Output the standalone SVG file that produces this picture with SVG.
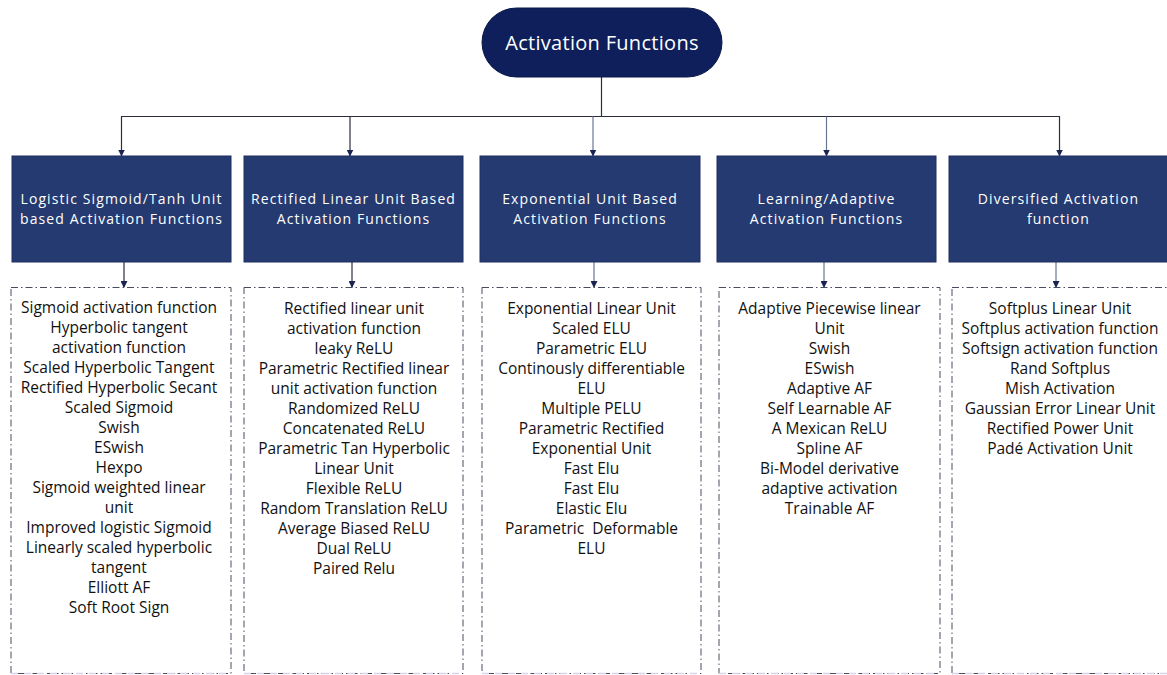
<svg xmlns="http://www.w3.org/2000/svg" width="1167" height="675" viewBox="0 0 1167 675">
<defs>
<marker id="arr" markerWidth="7" markerHeight="7" refX="6.5" refY="3.5" orient="auto" markerUnits="userSpaceOnUse">
<path d="M0,0 L7,3.5 L0,7 z" fill="#1b2350"/>
</marker>
<style>
.conn{fill:none;stroke:#2a2d3e;stroke-width:1.2}
.conn2{fill:none;stroke:#6a7594;stroke-width:1.2}
.pill{fill:#0e1f5b;stroke:#0a1848;stroke-width:1}
.cat{fill:#243a70;stroke:#1c2f5e;stroke-width:1}
.ttl{font-family:"Open Sans","Noto Sans",sans-serif;font-size:20px;fill:#ffffff;text-anchor:middle;letter-spacing:0.3px}
.cattxt{font-family:"Open Sans","Noto Sans",sans-serif;font-size:14px;fill:#ffffff;text-anchor:middle;letter-spacing:1.1px}
.lst{fill:#ffffff;stroke:#4a4c5e;stroke-width:1;stroke-dasharray:7 3 1.5 3}
.lstb{fill:none;stroke:#d4d4ec;stroke-width:1.5;stroke-dasharray:7 6}
.item{font-family:"Open Sans","Noto Sans",sans-serif;font-size:15.5px;fill:#111111;text-anchor:middle}
</style>
</defs>
<rect width="1167" height="675" fill="#ffffff"/>

<g id="connectors">
<path class="conn" d="M601.5 77 V116.5"/>
<path class="conn" d="M121 116.5 H1060"/>
<path class="conn" d="M121.5 116.5 V156" marker-end="url(#arr)"/>
<path class="conn" d="M350 116.5 V156" marker-end="url(#arr)"/>
<path class="conn2" d="M593 116.5 V156" marker-end="url(#arr)"/>
<path class="conn2" d="M826.5 116.5 V156" marker-end="url(#arr)"/>
<path class="conn" d="M1059.5 116.5 V156" marker-end="url(#arr)"/>
<path class="conn" d="M124 262 V287.5" marker-end="url(#arr)"/>
<path class="conn" d="M352 262 V287.5" marker-end="url(#arr)"/>
<path class="conn2" d="M594 262 V287.5" marker-end="url(#arr)"/>
<path class="conn2" d="M824 262 V287.5" marker-end="url(#arr)"/>
<path class="conn2" d="M1056 262 V287.5" marker-end="url(#arr)"/>
</g>

<g id="root">
<rect class="pill" x="482" y="8" width="240" height="69" rx="34.5" ry="34.5"/>
<text class="ttl" x="602" y="50">Activation Functions</text>
</g>

<g id="cat1">
<rect class="cat" x="12" y="156" width="219" height="106"/>
<text class="cattxt" x="121.5" y="204">Logistic Sigmoid/Tanh Unit</text>
<text class="cattxt" x="121.5" y="224">based Activation Functions</text>
</g>
<g id="cat2">
<rect class="cat" x="244" y="156" width="219" height="106"/>
<text class="cattxt" x="353.5" y="204">Rectified Linear Unit Based</text>
<text class="cattxt" x="353.5" y="224">Activation Functions</text>
</g>
<g id="cat3">
<rect class="cat" x="480" y="156" width="220" height="106"/>
<text class="cattxt" x="590" y="204">Exponential Unit Based</text>
<text class="cattxt" x="590" y="224">Activation Functions</text>
</g>
<g id="cat4">
<rect class="cat" x="717" y="156" width="219" height="106"/>
<text class="cattxt" x="826.5" y="204">Learning/Adaptive</text>
<text class="cattxt" x="826.5" y="224">Activation Functions</text>
</g>
<g id="cat5">
<rect class="cat" x="949" y="156" width="219" height="106"/>
<text class="cattxt" x="1058.5" y="204">Diversified Activation</text>
<text class="cattxt" x="1058.5" y="224">function</text>
</g>

<g id="list1">
<rect class="lst" x="11" y="287.5" width="220" height="386"/>
<path class="lstb" d="M11 673.5 H231"/>
<text class="item" x="119" y="313">Sigmoid activation function</text>
<text class="item" x="119" y="333">Hyperbolic tangent</text>
<text class="item" x="119" y="353">activation function</text>
<text class="item" x="119" y="373">Scaled Hyperbolic Tangent</text>
<text class="item" x="119" y="393">Rectified Hyperbolic Secant</text>
<text class="item" x="119" y="413">Scaled Sigmoid</text>
<text class="item" x="119" y="433">Swish</text>
<text class="item" x="119" y="453">ESwish</text>
<text class="item" x="119" y="473">Hexpo</text>
<text class="item" x="119" y="493">Sigmoid weighted linear</text>
<text class="item" x="119" y="513">unit</text>
<text class="item" x="119" y="533">Improved logistic Sigmoid</text>
<text class="item" x="119" y="553">Linearly scaled hyperbolic</text>
<text class="item" x="119" y="573">tangent</text>
<text class="item" x="119" y="593">Elliott AF</text>
<text class="item" x="119" y="613">Soft Root Sign</text>
</g>

<g id="list2">
<rect class="lst" x="244" y="287.5" width="219" height="386"/>
<path class="lstb" d="M244 673.5 H463"/>
<text class="item" x="354" y="314">Rectified linear unit</text>
<text class="item" x="354" y="334">activation function</text>
<text class="item" x="354" y="354">leaky ReLU</text>
<text class="item" x="354" y="374">Parametric Rectified linear</text>
<text class="item" x="354" y="394">unit activation function</text>
<text class="item" x="354" y="414">Randomized ReLU</text>
<text class="item" x="354" y="434">Concatenated ReLU</text>
<text class="item" x="354" y="454">Parametric Tan Hyperbolic</text>
<text class="item" x="354" y="474">Linear Unit</text>
<text class="item" x="354" y="494">Flexible ReLU</text>
<text class="item" x="354" y="514">Random Translation ReLU</text>
<text class="item" x="354" y="534">Average Biased ReLU</text>
<text class="item" x="354" y="554">Dual ReLU</text>
<text class="item" x="354" y="574">Paired Relu</text>
</g>

<g id="list3">
<rect class="lst" x="482" y="287.5" width="219" height="386"/>
<path class="lstb" d="M482 673.5 H701"/>
<text class="item" x="591.5" y="314">Exponential Linear Unit</text>
<text class="item" x="591.5" y="334">Scaled ELU</text>
<text class="item" x="591.5" y="354">Parametric ELU</text>
<text class="item" x="591.5" y="374">Continously differentiable</text>
<text class="item" x="591.5" y="394">ELU</text>
<text class="item" x="591.5" y="414">Multiple PELU</text>
<text class="item" x="591.5" y="434">Parametric Rectified</text>
<text class="item" x="591.5" y="454">Exponential Unit</text>
<text class="item" x="591.5" y="474">Fast Elu</text>
<text class="item" x="591.5" y="494">Fast Elu</text>
<text class="item" x="591.5" y="514">Elastic Elu</text>
<text class="item" x="591.5" y="534" xml:space="preserve">Parametric  Deformable</text>
<text class="item" x="591.5" y="554">ELU</text>
</g>

<g id="list4">
<rect class="lst" x="719" y="287.5" width="221" height="386"/>
<path class="lstb" d="M719 673.5 H940"/>
<text class="item" x="829.5" y="314">Adaptive Piecewise linear</text>
<text class="item" x="829.5" y="334">Unit</text>
<text class="item" x="829.5" y="354">Swish</text>
<text class="item" x="829.5" y="374">ESwish</text>
<text class="item" x="829.5" y="394">Adaptive AF</text>
<text class="item" x="829.5" y="414">Self Learnable AF</text>
<text class="item" x="829.5" y="434">A Mexican ReLU</text>
<text class="item" x="829.5" y="454">Spline AF</text>
<text class="item" x="829.5" y="474">Bi-Model derivative</text>
<text class="item" x="829.5" y="494">adaptive activation</text>
<text class="item" x="829.5" y="514">Trainable AF</text>
</g>

<g id="list5">
<rect class="lst" x="952" y="287.5" width="220" height="386"/>
<path class="lstb" d="M952 673.5 H1167"/>
<text class="item" x="1060" y="314">Softplus Linear Unit</text>
<text class="item" x="1060" y="334">Softplus activation function</text>
<text class="item" x="1060" y="354">Softsign activation function</text>
<text class="item" x="1060" y="374">Rand Softplus</text>
<text class="item" x="1060" y="394">Mish Activation</text>
<text class="item" x="1060" y="414">Gaussian Error Linear Unit</text>
<text class="item" x="1060" y="434">Rectified Power Unit</text>
<text class="item" x="1060" y="454">Padé Activation Unit</text>
</g>
</svg>
